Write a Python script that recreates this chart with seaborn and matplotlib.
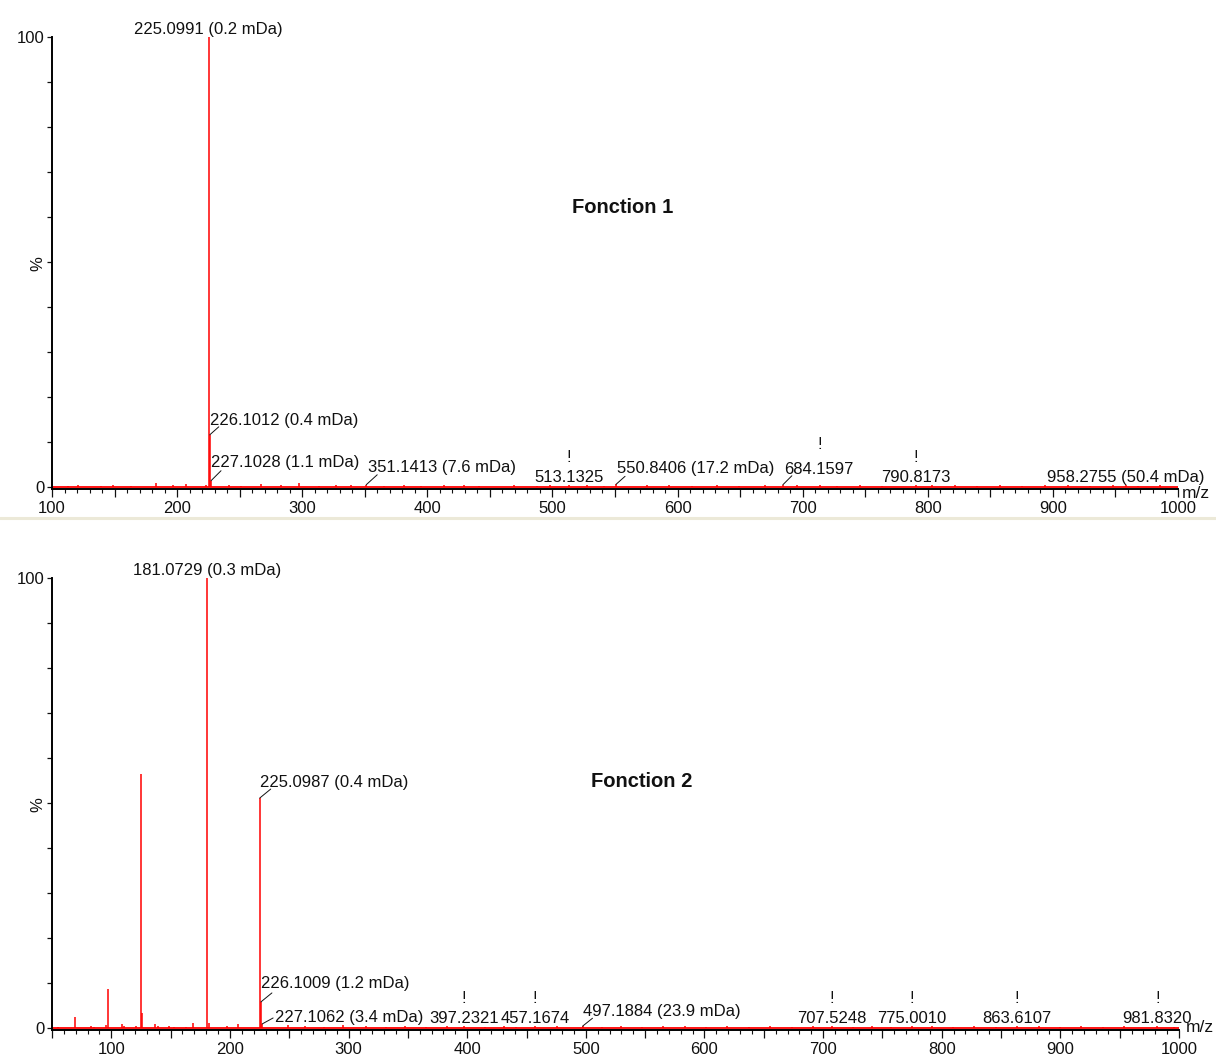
import pandas as pd
import seaborn as sns
import matplotlib.pyplot as plt
from matplotlib.ticker import MultipleLocator, FuncFormatter
from matplotlib.lines import Line2D

sns.set_style("ticks")
plt.rcParams['font.family'] = ['Liberation Sans', 'DejaVu Sans']
plt.rcParams['font.size'] = 12

RED = '#ff0000'
INK = '#111111'
PX = 0.72  # points per pixel at 100 dpi

# ---------------- Fonction 1 ----------------
f1_mz = [225.0991, 226.1012, 227.1028, 351.1413, 513.1325, 550.8406, 684.1597, 713.9, 790.8173, 958.2755]
f1_int = [100.0, 11.6, 1.4, 0.5, 0.5, 0.6, 0.5, 0.4, 0.5, 0.4]
f1_noise_mz = [113.0, 121.0, 139.0, 149.0, 163.1, 183.1, 197.1, 207.1, 223.1, 241.1,
               251.1, 267.1, 283.1, 297.1, 313.1, 327.2, 339.2, 365.2, 381.2, 395.2,
               413.3, 429.1, 441.3, 469.3, 487.3, 498.3, 527.3, 541.3, 575.4, 593.4,
               611.4, 631.4, 649.4, 669.5, 695.5, 727.5, 745.6, 763.6, 803.6, 821.6,
               839.7, 857.7, 875.7, 893.7, 911.8, 929.8, 947.8, 967.8, 985.9]
f1_noise_int = [0.3, 0.4, 0.3, 0.5, 0.3, 1.0, 0.4, 0.6, 0.5, 0.4,
                0.3, 0.7, 0.4, 0.8, 0.3, 0.4, 0.5, 0.3, 0.4, 0.3,
                0.5, 0.4, 0.3, 0.4, 0.3, 0.5, 0.4, 0.3, 0.4, 0.5,
                0.3, 0.4, 0.3, 0.5, 0.4, 0.3, 0.4, 0.3, 0.5, 0.4,
                0.3, 0.4, 0.3, 0.4, 0.5, 0.3, 0.4, 0.3, 0.4]
f1_lab_mz = [225.0991, 226.1012, 227.1028, 351.1413, 513.1325, 550.8406, 684.1597, 790.8173, 958.2755]
f1_lab_err = [0.2, 0.4, 1.1, 7.6, None, 17.2, None, None, 50.4]
f1_flag_mz = [513.1325, 713.9, 790.8173]

# ---------------- Fonction 2 ----------------
f2_mz = [69.0, 97.0, 125.0, 126.0, 181.0729, 182.08, 225.0987, 226.1009, 227.1062,
         397.2321, 457.1674, 497.1884, 707.5248, 775.0010, 863.6107, 981.8320]
f2_int = [2.4, 8.7, 56.5, 3.4, 100.0, 1.2, 51.1, 5.8, 0.9,
          0.5, 0.5, 0.4, 0.5, 0.5, 0.5, 0.5]
f2_noise_mz = [55.0, 83.1, 85.0, 95.1, 109.0, 111.0, 121.0, 137.0, 139.1, 149.0,
               153.1, 163.1, 169.1, 197.1, 207.1, 249.1, 263.1, 279.1, 295.1, 315.1,
               331.2, 347.2, 365.2, 383.2, 415.3, 431.3, 441.3, 475.3, 513.3, 529.3,
               547.4, 565.4, 583.4, 601.4, 619.4, 637.4, 655.5, 673.5, 691.5, 725.5,
               741.5, 757.5, 791.6, 809.6, 827.6, 845.6, 881.7, 899.7, 917.7, 935.7, 953.8, 995.9]
f2_noise_int = [0.3, 0.5, 0.3, 0.6, 0.9, 0.4, 0.5, 1.0, 0.4, 0.4,
                0.3, 0.3, 1.1, 0.4, 0.8, 0.6, 0.4, 0.3, 0.7, 0.5,
                0.3, 0.4, 0.3, 0.4, 0.3, 0.4, 0.3, 0.4, 0.3, 0.4,
                0.3, 0.4, 0.5, 0.3, 0.4, 0.3, 0.4, 0.3, 0.4, 0.3,
                0.4, 0.3, 0.4, 0.3, 0.4, 0.3, 0.4, 0.3, 0.4, 0.3, 0.4, 0.3]
f2_lab_mz = [181.0729, 225.0987, 226.1009, 227.1062, 397.2321, 457.1674, 497.1884,
             707.5248, 775.0010, 863.6107, 981.8320]
f2_lab_err = [0.3, 0.4, 1.2, 3.4, None, None, 23.9, None, None, None, None]
f2_flag_mz = [397.2321, 457.1674, 707.5248, 775.0010, 863.6107, 981.8320]

# label placement: (text dx, text dy, leader dx, leader dy) in pixels, others centred
f1_layout = {226.1012: (0, 10, 9, 8), 227.1028: (0, 14, 10, 10), 351.1413: (2, 13, 11, 10),
             550.8406: (1, 11, 9, 8), 684.1597: (1, 11, 9, 9)}
f2_layout = {225.0987: (0, 11, 11, 9), 226.1009: (0, 14, 11, 9),
             227.1062: (13, 2, 11, 6), 497.1884: (0, 10, 10, 8)}
flag_lift = {713.9: 36}


def draw(ax, mz, inten, nmz, nint, lab_mz, lab_err, flags, layout, xlim, title, tpos, mzpos):
    df = pd.DataFrame({"mz": mz + nmz, "int": inten + nint})
    height = dict(zip(df["mz"], df["int"]))
    ax.axhline(0, color=RED, lw=1.3, zorder=2)
    ax.vlines(df["mz"], 0, df["int"], color=RED, lw=1.1, zorder=3)

    for m, e in zip(lab_mz, lab_err):
        txt = f"{m:.4f}" if e is None else f"{m:.4f} ({e:.1f} mDa)"
        h = height[m]
        if m in layout:
            tx, ty, lx, ly = layout[m]
            ax.annotate("", xy=(m, h), xytext=(lx * PX, ly * PX), textcoords="offset points",
                        arrowprops=dict(arrowstyle="-", color=INK, lw=0.7, shrinkA=0, shrinkB=0))
            ax.annotate(txt, xy=(m, h), xytext=(tx * PX, ty * PX), textcoords="offset points",
                        ha="left", va="baseline", color=INK)
        else:
            ax.annotate(txt, xy=(m, h), xytext=(0, 3 * PX), textcoords="offset points",
                        ha="center", va="baseline", color=INK)
    for m in flags:
        ax.annotate("!", xy=(m, height[m]), xytext=(0, flag_lift.get(m, 23) * PX),
                    textcoords="offset points", ha="center", va="baseline", color=INK)

    ax.set_xlim(*xlim)
    ax.set_ylim(-0.35, 100)
    sns.despine(ax=ax)
    for s in ("left", "bottom"):
        ax.spines[s].set_linewidth(1.4)
        ax.spines[s].set_color("black")

    ax.set_yticks(range(0, 101, 10))
    ax.set_yticklabels(["0", "", "", "", "", "%", "", "", "", "", "100"])
    ax.get_yticklabels()[5].set_rotation(90)
    ax.tick_params(axis="y", length=3.6, width=0.9, pad=1.5, colors=INK)

    ax.xaxis.set_major_locator(MultipleLocator(50))
    ax.xaxis.set_minor_locator(MultipleLocator(10))
    ax.xaxis.set_major_formatter(FuncFormatter(lambda v, p: f"{v:.0f}" if v % 100 == 0 else ""))
    ax.tick_params(axis="x", which="major", length=5.8, width=0.9, pad=3.2, colors=INK)
    ax.tick_params(axis="x", which="minor", length=2.9, width=0.8, colors=INK)
    ax.set_xlabel("")
    ax.set_ylabel("")

    ax.annotate("m/z", xy=(1, 0), xycoords=("axes fraction", "data"),
                xytext=(mzpos[0] * PX, mzpos[1] * PX), textcoords="offset points",
                ha="left", va="center", fontsize=12.5, color=INK, annotation_clip=False)
    ax.text(tpos[0], tpos[1], title, transform=ax.transAxes, ha="center", va="center",
            fontsize=14.5, fontweight="bold", color=INK)


fig = plt.figure(figsize=(12.16, 10.57), dpi=100)
ax1 = fig.add_axes([52 / 1216, 0.53775, 1126 / 1216, 0.42725])
ax2 = fig.add_axes([52 / 1216, 0.02592, 1127 / 1216, 0.42725])

draw(ax1, f1_mz, f1_int, f1_noise_mz, f1_noise_int, f1_lab_mz, f1_lab_err, f1_flag_mz,
     f1_layout, (100, 1000), "Fonction 1", (0.507, 0.622), (4, -6))
draw(ax2, f2_mz, f2_int, f2_noise_mz, f2_noise_int, f2_lab_mz, f2_lab_err, f2_flag_mz,
     f2_layout, (50, 1000), "Fonction 2", (0.5235, 0.549), (7, 1))

# window separator between the two traces
fig.add_artist(Line2D([0, 1], [1 - 518 / 1057] * 2, transform=fig.transFigure,
                      color="#ece9d8", lw=2.2))

plt.savefig("out.png", dpi=100)
plt.close()
